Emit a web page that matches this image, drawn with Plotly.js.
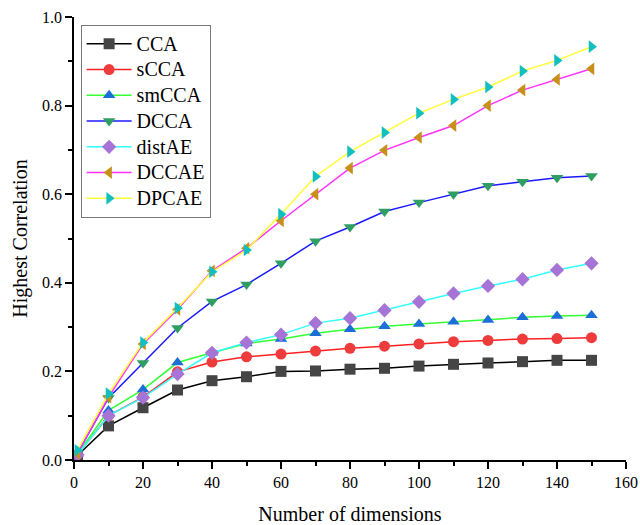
<!DOCTYPE html>
<html><head><meta charset="utf-8">
<script src="https://cdn.plot.ly/plotly-3.0.1.min.js"></script>
<style>body{margin:0;background:#fff}#c{width:640px;height:525px}</style>
</head><body><div id="c"></div>
<script>
const dims = [1,10,20,30,40,50,60,70,80,90,100,110,120,130,140,150];
const CCA    = [0.010,0.077,0.118,0.158,0.179,0.188,0.200,0.201,0.205,0.207,0.212,0.216,0.219,0.222,0.225,0.225];
const sCCA   = [0.012,0.100,0.142,0.199,0.221,0.233,0.239,0.246,0.252,0.257,0.262,0.267,0.270,0.273,0.274,0.276];
const smCCA  = [0.013,0.112,0.159,0.220,0.242,0.263,0.273,0.286,0.295,0.302,0.307,0.312,0.316,0.322,0.325,0.327];
const DCCA   = [0.015,0.140,0.219,0.298,0.358,0.396,0.444,0.494,0.526,0.561,0.581,0.600,0.619,0.628,0.637,0.641];
const distAE = [0.012,0.100,0.141,0.194,0.242,0.265,0.283,0.309,0.320,0.338,0.357,0.376,0.393,0.408,0.429,0.444];
const DCCAE  = [0.015,0.142,0.262,0.340,0.427,0.478,0.540,0.600,0.659,0.699,0.728,0.755,0.800,0.835,0.859,0.883];
const DPCAE  = [0.022,0.150,0.265,0.343,0.425,0.474,0.555,0.640,0.696,0.739,0.783,0.814,0.842,0.878,0.902,0.933];

const names = ['CCA','sCCA','smCCA','DCCA','distAE','DCCAE','DPCAE'];
const series = [CCA,sCCA,smCCA,DCCA,distAE,DCCAE,DPCAE];
const lineColors = ['#000000','#ff2020','#33ff33','#1a1aff','#33ffff','#ff33ff','#ffff33'];
const markerColors = ['#454545','#ee3b3b','#1c6ed8','#2e9e62','#a674d6','#c8901a','#12bfc0'];
const symbols = ['square','circle','triangle-up','triangle-down','diamond','triangle-left','triangle-right'];

const traces = names.map((n,i)=>({
  x: dims, y: series[i], name: '<span style="font-size:20px">' + n + '</span>',
  type:'scatter', mode:'lines+markers',
  line:{color:lineColors[i], width:1.5},
  marker:{symbol:symbols[i], color:markerColors[i], size:11, line:{width:0}}
}));

const font = 'Liberation Serif, Times New Roman, serif';
const layout = {
  width:640, height:525,
  margin:{l:74, r:14, t:17, b:65},
  paper_bgcolor:'#fff', plot_bgcolor:'#fff',
  font:{family:font, color:'#000', size:16},
  showlegend:true,
  legend:{x:0.012, y:0.982, xanchor:'left', yanchor:'top',
    bgcolor:'#fff', bordercolor:'#777', borderwidth:1,
    font:{family:font, size:17.5, color:'#000'}, itemwidth:45, tracegroupgap:0},
  xaxis:{range:[0,160], dtick:20, tick0:0, showgrid:false, zeroline:false,
    showline:true, linecolor:'#000', linewidth:1.5, ticks:'outside', ticklen:7, tickwidth:1.5, tickcolor:'#000',
    minor:{dtick:10, ticks:'outside', ticklen:4, tickwidth:1.5, tickcolor:'#000'},
    tickfont:{family:font, size:16},
    title:{text:'Number of dimensions', font:{family:font, size:20}, standoff:20}},
  yaxis:{range:[0,1.0], dtick:0.2, tick0:0, tickformat:'.1f', showgrid:false, zeroline:false,
    showline:true, linecolor:'#000', linewidth:1.5, ticks:'outside', ticklen:7, tickwidth:1.5, tickcolor:'#000',
    minor:{dtick:0.1, ticks:'outside', ticklen:4, tickwidth:1.5, tickcolor:'#000'},
    tickfont:{family:font, size:16},
    title:{text:'Highest Correlation', font:{family:font, size:20}, standoff:9}}
};
Plotly.newPlot('c', traces, layout, {displayModeBar:false, responsive:false});
</script>
</body></html>
